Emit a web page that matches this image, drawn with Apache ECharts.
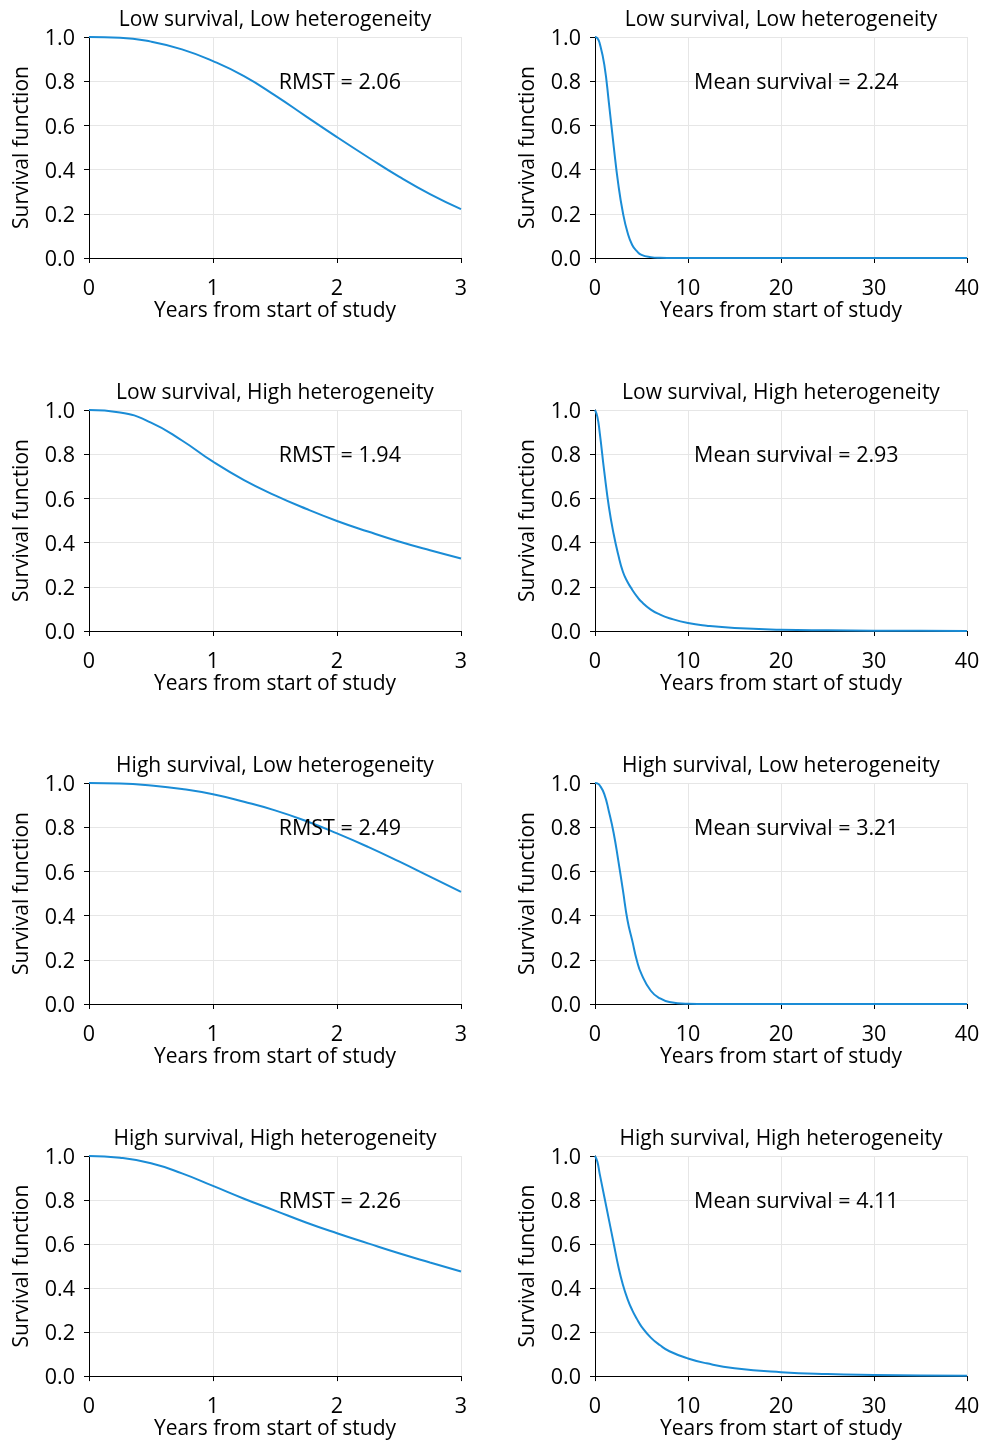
<!DOCTYPE html>
<html>
<head>
<meta charset="utf-8">
<script src="https://cdn.jsdelivr.net/npm/echarts@6/dist/echarts.min.js"></script>
<style>
html, body { margin: 0; padding: 0; background: #fff; }
#chart { width: 984px; height: 1441px; }
</style>
</head>
<body>
<div id="chart"></div>
<script type="text/javascript">
// time points
var leftTimes = [0, 0.25, 0.5, 0.75, 1, 1.25, 1.5, 1.75, 2, 2.25, 2.5, 2.75, 3];
var rightTimes = [0, 0.25, 0.5, 1, 1.5, 2, 2.5, 3, 3.5, 4, 4.5, 5, 6, 7, 8, 10, 12, 15, 20, 25, 30, 35, 40];

// left column (0-3 years)
var lowLowLeft   = [1, 0.997, 0.979, 0.944, 0.891, 0.823, 0.736, 0.641, 0.547, 0.456, 0.368, 0.289, 0.221];
var lowHighLeft  = [1, 0.989, 0.943, 0.862, 0.766, 0.683, 0.614, 0.553, 0.498, 0.450, 0.405, 0.365, 0.328];
var highLowLeft  = [1, 0.998, 0.989, 0.973, 0.949, 0.915, 0.876, 0.828, 0.772, 0.711, 0.645, 0.576, 0.507];
var highHighLeft = [1, 0.992, 0.967, 0.921, 0.864, 0.806, 0.752, 0.698, 0.649, 0.603, 0.558, 0.516, 0.475];

// right column (0-40 years)
var lowLowRight   = [1, 0.995, 0.972, 0.875, 0.70, 0.51, 0.335, 0.205, 0.115, 0.059, 0.031, 0.014, 0.004, 0.001, 0.0003, 0, 0, 0, 0, 0, 0, 0, 0];
var lowHighRight  = [1, 0.97, 0.90, 0.72, 0.56, 0.44, 0.345, 0.268, 0.222, 0.187, 0.157, 0.132, 0.097, 0.074, 0.058, 0.036, 0.024, 0.0136, 0.006, 0.003, 0.0015, 0.0008, 0.0005];
var highLowRight  = [1, 0.998, 0.99, 0.95, 0.87, 0.775, 0.65, 0.515, 0.378, 0.288, 0.197, 0.135, 0.06, 0.025, 0.009, 0.001, 0, 0, 0, 0, 0, 0, 0];
var highHighRight = [1, 0.975, 0.92, 0.815, 0.71, 0.605, 0.50, 0.415, 0.35, 0.30, 0.26, 0.225, 0.175, 0.14, 0.113, 0.08, 0.058, 0.036, 0.018, 0.009, 0.005, 0.003, 0.002];

var titles = ['Low survival, Low heterogeneity', 'Low survival, High heterogeneity',
              'High survival, Low heterogeneity', 'High survival, High heterogeneity'];
var rmstLabels = ['RMST = 2.06', 'RMST = 1.94', 'RMST = 2.49', 'RMST = 2.26'];
var meanLabels = ['Mean survival = 2.24', 'Mean survival = 2.93', 'Mean survival = 3.21', 'Mean survival = 4.11'];

var leftData = [lowLowLeft, lowHighLeft, highLowLeft, highHighLeft];
var rightData = [lowLowRight, lowHighRight, highLowRight, highHighRight];

var FONT = 'Open Sans';
var BLUE = '#1a8cd6';
var rowTops = [37, 410, 783, 1156];

function zip(xs, ys) {
    var out = [];
    for (var i = 0; i < xs.length; i++) out.push([xs[i], ys[i]]);
    return out;
}

var grids = [], xAxes = [], yAxes = [], series = [], titleList = [];

for (var r = 0; r < 4; r++) {
    for (var c = 0; c < 2; c++) {
        var idx = r * 2 + c;
        var left = c === 0 ? 89 : 595;
        grids.push({ left: left, top: rowTops[r], width: 372, height: 221 });
        titleList.push({
            text: titles[r],
            left: left + 186, top: rowTops[r] - 27, textAlign: 'center', padding: 0,
            textStyle: { fontFamily: FONT, fontSize: 21, fontWeight: 'normal', color: '#000' }
        });
        xAxes.push({
            type: 'value', gridIndex: idx, min: 0, max: c === 0 ? 3 : 40, interval: c === 0 ? 1 : 10,
            name: 'Years from start of study', nameLocation: 'middle', nameGap: 42,
            nameTextStyle: { fontFamily: FONT, fontSize: 21, color: '#000' },
            axisLine: { lineStyle: { color: '#000', width: 1 } },
            axisTick: { show: true, length: 5, lineStyle: { color: '#000' } },
            axisLabel: { fontFamily: FONT, fontSize: 21.5, color: '#000', margin: 20 },
            splitLine: { show: true, lineStyle: { color: '#e6e6e6', width: 1 } }
        });
        yAxes.push({
            type: 'value', gridIndex: idx, min: 0, max: 1, interval: 0.2,
            name: 'Survival function', nameLocation: 'middle', nameGap: 56, nameRotate: 90,
            nameTextStyle: { fontFamily: FONT, fontSize: 21, color: '#000' },
            axisLine: { show: true, lineStyle: { color: '#000', width: 1 } },
            axisTick: { show: true, length: 5, lineStyle: { color: '#000' } },
            axisLabel: { fontFamily: FONT, fontSize: 21.5, color: '#000', margin: 14,
                verticalAlign: 'top', lineHeight: 4,
                formatter: function (v) { return v.toFixed(1); } },
            splitLine: { show: true, lineStyle: { color: '#e6e6e6', width: 1 } }
        });
        series.push({
            type: 'line', xAxisIndex: idx, yAxisIndex: idx,
            data: c === 0 ? zip(leftTimes, leftData[r]) : zip(rightTimes, rightData[r]),
            smooth: 0.5, showSymbol: false, symbol: 'none',
            lineStyle: { color: BLUE, width: 2 },
            markPoint: {
                symbol: 'circle', symbolSize: 0, silent: true,
                data: [{
                    coord: [c === 0 ? 1.53 : 10.65, 0.8],
                    label: {
                        show: true, position: 'inside', align: 'left', verticalAlign: 'middle',
                        offset: [0, 2],
                        formatter: c === 0 ? rmstLabels[r] : meanLabels[r],
                        fontFamily: FONT, fontSize: 21.5, color: '#000'
                    }
                }]
            }
        });
    }
}

var myChart = echarts.init(document.getElementById('chart'));
myChart.setOption({
    animation: false,
    backgroundColor: '#fff',
    title: titleList,
    grid: grids,
    xAxis: xAxes,
    yAxis: yAxes,
    series: series
});
</script>
</body>
</html>
